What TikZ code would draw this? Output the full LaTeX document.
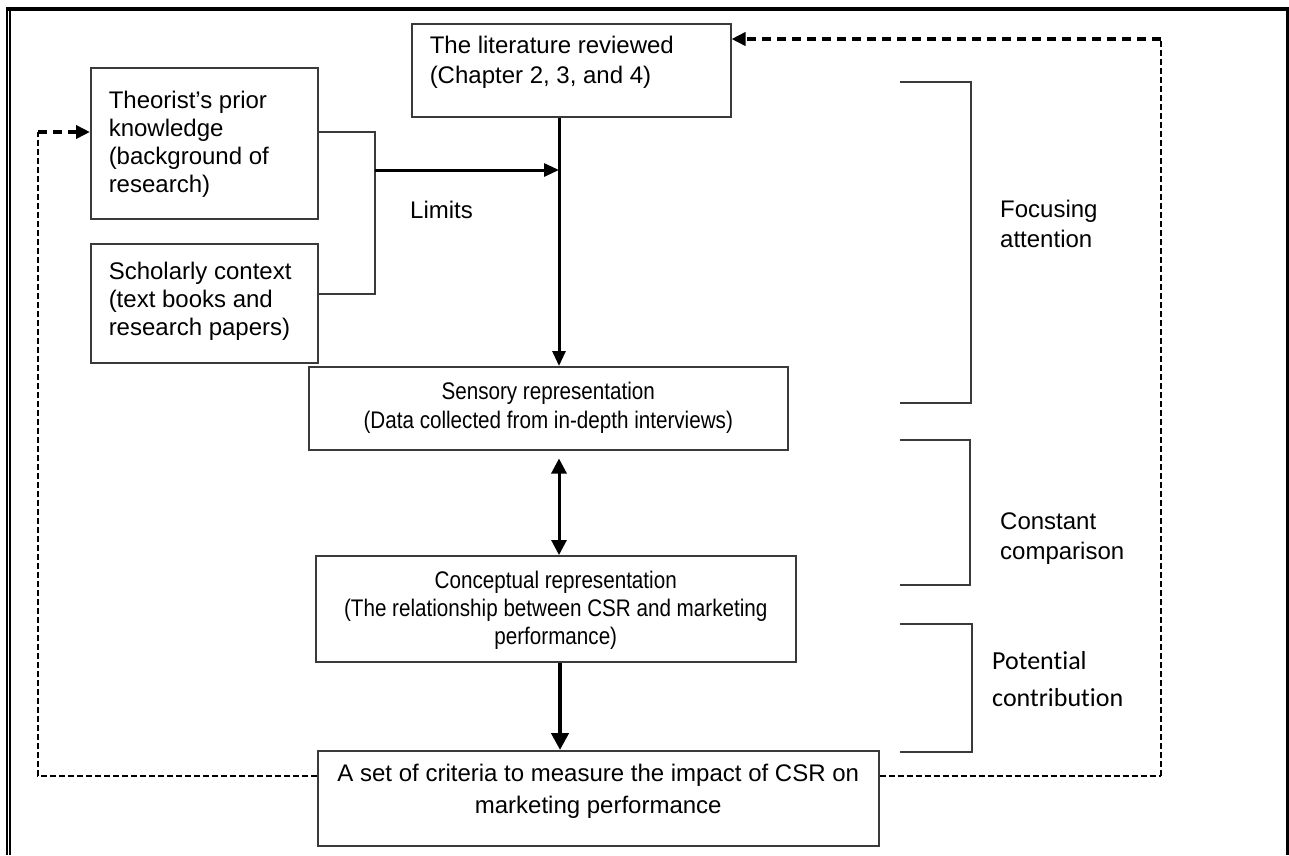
\documentclass[tikz,border=0pt]{standalone}
\usepackage{fontspec}
\setmainfont{Liberation Sans}
\newfontfamily\narrowsans{Liberation Sans}[FakeStretch=0.86]
\newfontfamily\calibrisans{Carlito}[Ligatures=NoCommon]
\usetikzlibrary{arrows.meta}
\definecolor{edgegray}{HTML}{3A3A3A}
\begin{document}
\begin{tikzpicture}[x=1pt,y=-1pt,
  box/.style={draw=edgegray, line width=1.5pt, rectangle, inner sep=0pt,
    anchor=north west, font=\fontsize{24}{28}\selectfont},
  thinline/.style={draw=edgegray, line width=1.5pt},
  bracket/.style={draw=edgegray, line width=1.5pt},
  mainarrow/.style={line width=3pt, -{Triangle[length=15pt,width=13pt]}},
  twoway/.style={line width=3pt, {Triangle[length=15pt,width=15pt]}-{Triangle[length=15pt,width=15pt]}},
  bigarrow/.style={line width=4.5pt, -{Triangle[length=17pt,width=17pt]}},
  fbthin/.style={line width=1.2pt, dash pattern=on 6pt off 3pt},
  fbmid/.style={line width=2.5pt, dash pattern=on 6pt off 3pt},
  fbthick/.style={line width=3.5pt, dash pattern=on 9pt off 6pt,
    -{Triangle[length=14pt,width=13pt]}},
  sidelabel/.style={anchor=west, align=left, inner sep=0pt,
    font=\fontsize{24}{30}\selectfont}
]
\useasboundingbox (0,0) rectangle (1289,855);

% page frame: heavy top and right rules, double rule on the left
\draw[line width=3.5pt] (6,8.75) -- (1289,8.75);
\draw[line width=2.3pt] (7.2,7) -- (7.2,855);
\draw[line width=1.3pt] (10,10.5) -- (10,855);
\draw[line width=3pt] (1287.5,7) -- (1287.5,855);

% boxes
\node[box, inner xsep=18pt, inner ysep=12pt] (lit) at (411,23)
  {\parbox[c][69pt][t]{283pt}{\raggedright\fontsize{24}{30}\selectfont
   The literature reviewed\\(Chapter 2, 3, and 4)}};
\node[box, inner xsep=18pt, inner ysep=23pt] (theo) at (90,67)
  {\parbox[c][105pt][t]{191pt}{\raggedright
   Theorist’s prior\\knowledge\\(background of\\research)}};
\node[box, inner xsep=18pt, inner ysep=18pt] (schol) at (90,243)
  {\parbox[c][83pt][t]{191pt}{\raggedright
   Scholarly context\\(text books and\\research papers)}};
\node[box, minimum width=479pt, minimum height=83pt, align=center,
  font=\narrowsans\fontsize{24}{29}\selectfont] (sens) at (308,366)
  {Sensory representation\\(Data collected from in-depth interviews)};
\node[box, inner sep=0pt, font=\narrowsans\fontsize{24}{28}\selectfont] (conc) at (315,555)
  {\parbox[c][106pt][c]{480pt}{\centering\vspace*{4pt}
   Conceptual representation\\(The relationship between CSR and marketing\\performance)}};
\node[box, inner xsep=10pt, inner ysep=13pt] (crit) at (317,750)
  {\parbox[c][69pt][t]{541pt}{\centering\fontsize{24}{32}\selectfont
   A set of criteria to measure the impact of CSR on\\marketing performance}};

% side labels
\node[sidelabel] (limits) at (410,210) {Limits};
\node[sidelabel] (focus) at (1000,224) {Focusing\\attention};
\node[sidelabel] (compare) at (1000,539) {Constant\\comparison};
\node[sidelabel, font=\calibrisans\fontsize{26}{37}\selectfont] (contrib) at (992,679)
  {Potential\\contribution};

% junction points
\coordinate (spine) at (559,0);
\coordinate (jt) at (375,132);
\coordinate (jb) at (375,294);
\coordinate (jm) at (375,170);
\coordinate (jh) at (559,170);

% main flow
\draw[thinline] (theo.east |- jt) -- (jt) -- (jb) -- (schol.east |- jb);
\draw[mainarrow] (jm) -- (jh);
\draw[mainarrow] (lit.south -| spine) -- (sens.north -| spine);
\draw[twoway] ([yshift=-8pt]sens.south -| spine) -- (conc.north -| spine);
\draw[bigarrow] (conc.south -| 560,0) -- (crit.north -| 560,0);

% brackets
\draw[bracket] (900,82) -- (971,82) -- (971,403) -- (900,403);
\draw[bracket] (900,440) -- (970,440) -- (970,585) -- (900,585);
\draw[bracket] (900,624) -- (972,624) -- (972,752) -- (900,752);

% feedback loops
\coordinate (fl1) at (38,776);
\coordinate (fl2) at (38,132);
\coordinate (fr1) at (1161,776);
\coordinate (fr2) at (1161,39);
\draw[fbthin] (crit.west |- fl1) -- (fl1) -- (fl2);
\draw[fbmid] (crit.west |- fl1) -- ++(-64,0);
\draw[fbthick] (fl2) -- (theo.west |- fl2);
\draw[fbmid] (crit.east |- fr1) -- (fr1);
\draw[fbthin] (fr1) -- (fr2);
\draw[fbthick] (fr2) -- (lit.east |- fr2);
\end{tikzpicture}
\end{document}
